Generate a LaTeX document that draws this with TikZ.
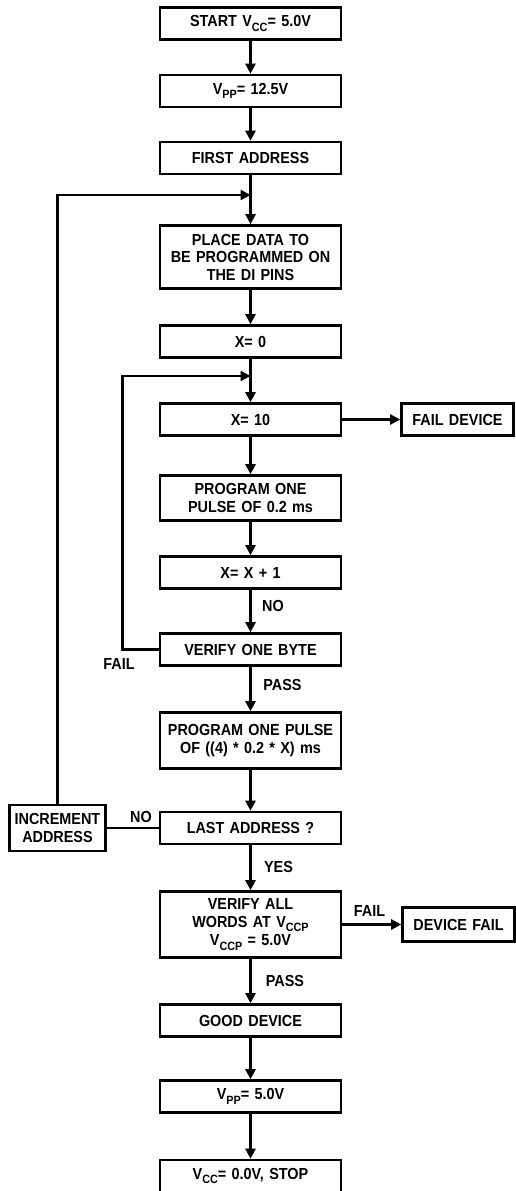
\documentclass[tikz,border=0pt]{standalone}
\usepackage{fontspec}
\setmainfont{Liberation Sans}[FakeStretch=0.9]
\usepackage{tikz}
\usetikzlibrary{shapes, arrows, arrows.meta, positioning}
\newcommand{\lowtxt}[1]{\raisebox{-0.3em}{\fontsize{12}{12}\selectfont #1}}

\begin{document}
\begin{tikzpicture}[x=1pt, y=1pt, node distance=70pt, auto, font=\fontsize{16}{17.5}\selectfont\bfseries]
    \tikzstyle{block} = [rectangle, draw, line width=2.6pt, text width=176pt, align=center, minimum width=181pt, minimum height=32pt, inner sep=2pt]
    \tikzstyle{side} = [block, text width=104pt, minimum width=112pt]
    \tikzstyle{lbl} = [inner sep=0pt]
    \tikzstyle{line} = [line width=2.4pt]
    \tikzstyle{arrow} = [line, -{Triangle[length=10pt, width=10pt]}]

    \useasboundingbox (0,0) rectangle (516,-1191);

    \node [block] (start) at (250.5,-23.5) {START V\lowtxt{CC}= 5.0V};
    \node [block, below of=start, node distance=67.5pt] (vpphi) {V\lowtxt{PP}= 12.5V};
    \node [block, below of=vpphi, node distance=67pt] (first) {FIRST ADDRESS};
    \node [block, below of=first, node distance=99pt, minimum height=63pt] (place) {PLACE DATA TO\\ BE PROGRAMMED ON\\ THE DI PINS};
    \node [block, below of=place, node distance=84.5pt] (xzero) {X= 0};
    \node [block, below of=xzero, node distance=78pt] (xten) {X= 10};
    \node [block, below of=xten, node distance=78.5pt, minimum height=45pt] (pulse) {PROGRAM ONE\\ PULSE OF 0.2 ms};
    \node [block, below of=pulse, node distance=74.5pt] (xinc) {X= X + 1};
    \node [block, below of=xinc, node distance=77pt] (verify) {VERIFY ONE BYTE};
    \node [block, below of=verify, node distance=91pt, minimum height=56pt] (pulsefour) {PROGRAM ONE PULSE\\ OF ((4) * 0.2 * X) ms};
    \node [block, below of=pulsefour, node distance=87.5pt] (last) {LAST ADDRESS ?};
    \node [block, below of=last, node distance=96.5pt, minimum height=66pt] (verall) {VERIFY ALL\\ WORDS AT V\lowtxt{CCP}\\[1pt] V\lowtxt{CCP} = 5.0V};
    \node [block, below of=verall, node distance=96pt] (good) {GOOD DEVICE};
    \node [block, below of=good, node distance=76pt] (vpplo) {V\lowtxt{PP}= 5.0V};
    \node [block, below of=vpplo, node distance=79.5pt] (stop) {V\lowtxt{CC}= 0.0V, STOP};

    \node [side, right of=xten, node distance=207pt] (faildev) {FAIL DEVICE};
    \node [side, right of=verall, node distance=208pt, minimum height=34pt] (devfail) {DEVICE FAIL};
    \node [side, left of=last, node distance=193pt, text width=92pt, minimum width=94pt, minimum height=46pt] (incaddr) {INCREMENT\\ ADDRESS};

    \coordinate [below of=first, node distance=37pt] (loopa);
    \coordinate [below of=xzero, node distance=34.5pt] (loopb);
    \coordinate [left of=verify, node distance=128pt] (failpt);

    \node [lbl] (nolbl) at (273,-605.5) {NO};
    \node [lbl] (faillbl) at (119,-664) {FAIL};
    \node [lbl] (passlbl) at (282.5,-684.5) {PASS};
    \node [lbl] (nolbltwo) at (141,-816.5) {NO};
    \node [lbl] (yeslbl) at (278.5,-867) {YES};
    \node [lbl] (faillbltwo) at (369.5,-911) {FAIL};
    \node [lbl] (passlbltwo) at (285,-981) {PASS};

    \draw [arrow] (start) -- (vpphi);
    \draw [arrow] (vpphi) -- (first);
    \draw [arrow] (first) -- (place);
    \draw [arrow] (place) -- (xzero);
    \draw [arrow] (xzero) -- (xten);
    \draw [arrow] (xten) -- (pulse);
    \draw [arrow] (pulse) -- (xinc);
    \draw [arrow] (xinc) -- (verify);
    \draw [arrow] (verify) -- (pulsefour);
    \draw [arrow] (pulsefour) -- (last);
    \draw [arrow] (last) -- (verall);
    \draw [arrow] (verall) -- (good);
    \draw [arrow] (good) -- (vpplo);
    \draw [arrow] (vpplo) -- (stop);
    \draw [arrow] (xten) -- (faildev);
    \draw [arrow] (verall) -- (devfail);
    \draw [line] (last) -- (incaddr);
    \draw [arrow] (incaddr.north) |- (loopa);
    \draw [arrow] (verify.west) -- (failpt) |- (loopb);
\end{tikzpicture}
\end{document}
